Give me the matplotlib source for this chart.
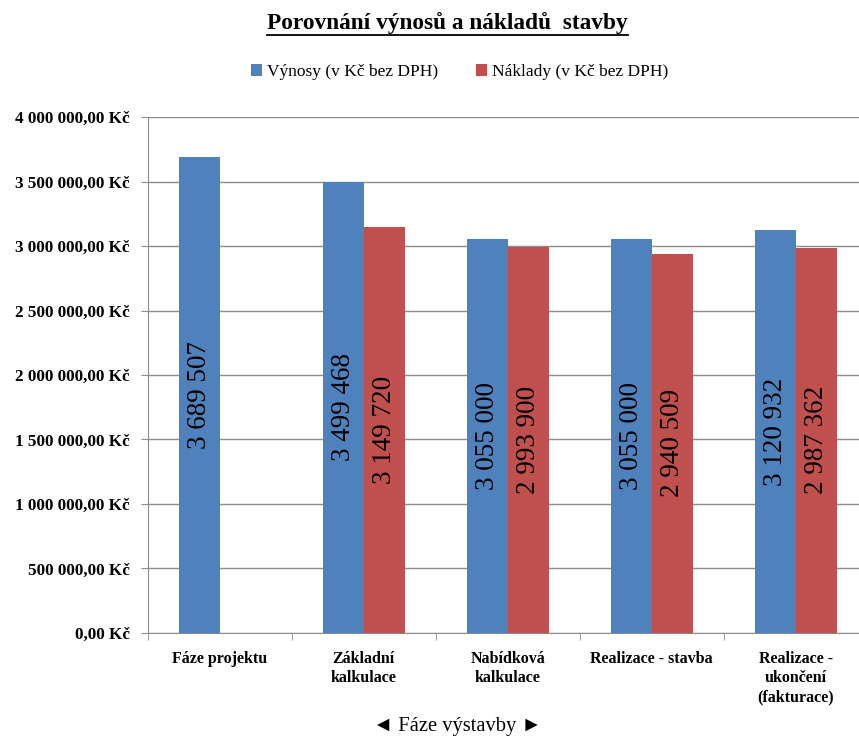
import matplotlib
matplotlib.use("Agg")
import matplotlib.pyplot as plt
import numpy as np
from matplotlib.lines import Line2D
from matplotlib.ticker import FuncFormatter, MultipleLocator

plt.rcParams['font.family'] = ['Liberation Serif', 'DejaVu Sans']

faze = ["Fáze projektu", "Základní\nkalkulace", "Nabídková\nkalkulace",
        "Realizace - stavba", "Realizace -\nukončení\n(fakturace)"]
vynosy = [3689507, 3499468, 3055000, 3055000, 3120932]
naklady = [np.nan, 3149720, 2993900, 2940509, 2987362]

modra = "#4F81BD"
cervena = "#C0504D"


def czk(v, pos=None):
    s = f"{v:,.2f}".replace(",", " ").replace(".", ",")
    return s + " Kč"


def cislo(v):
    return f"{v:,.0f}".replace(",", " ")


fig = plt.figure(figsize=(8.59, 7.36), dpi=100)
# osa pokračuje kousek za pravý okraj obrázku
ax = fig.add_axes([0.172, 0.140, 0.838, 0.701])

x = np.arange(len(faze))
w = 0.285
b1 = ax.bar(x - w / 2, vynosy, w, color=modra, label="Výnosy (v Kč bez DPH)", zorder=3)
b2 = ax.bar(x + w / 2, naklady, w, color=cervena, label="Náklady (v Kč bez DPH)", zorder=3)

for bars, vals in ((b1, vynosy), (b2, naklady)):
    for r, v in zip(bars, vals):
        if np.isnan(v):
            continue
        ax.text(r.get_x() + r.get_width() / 2, v / 2, cislo(v), rotation=90,
                ha="center", va="center", fontsize=19.5, color="black", zorder=4)

ax.set_xlim(-0.5, len(faze) - 0.5)
ax.set_ylim(0, 4000000)
ax.yaxis.set_major_locator(MultipleLocator(500000))
ax.yaxis.set_major_formatter(FuncFormatter(czk))
ax.grid(axis="y", color="#8c8c8c", linewidth=1, zorder=0)

ax.set_xticks(x)
ax.set_xticklabels(faze, fontweight="bold", fontsize=11.5, linespacing=1.25)
ax.set_xticks(np.arange(len(faze) + 1) - 0.5, minor=True)
ax.tick_params(axis="x", which="major", length=0, pad=13)
ax.tick_params(axis="x", which="minor", length=5, color="#8c8c8c")
ax.tick_params(axis="y", length=5, color="#8c8c8c", pad=8)
for lab in ax.get_yticklabels():
    lab.set_fontweight("bold")
    lab.set_fontsize(12.3)

for s in ("top", "right"):
    ax.spines[s].set_visible(False)
for s in ("left", "bottom"):
    ax.spines[s].set_color("#8c8c8c")

ax.set_xlabel("◄ Fáze výstavby ►", fontsize=14.8)
ax.xaxis.set_label_coords(0.43, -0.163)

leg = fig.legend(loc="center", bbox_to_anchor=(0.535, 0.902), ncol=2, frameon=False,
                 fontsize=12.5, handlelength=0.6, handleheight=0.6,
                 handletextpad=0.3, columnspacing=2.2)

title = fig.text(0.521, 0.969, "Porovnání výnosů a nákladů  stavby", ha="center",
                 va="center", fontsize=16.8, fontweight="bold")

# podtržení nadpisu
fig.canvas.draw()
bb = title.get_window_extent().transformed(fig.transFigure.inverted())
yline = bb.y0 - 0.002
fig.add_artist(Line2D([bb.x0, bb.x1], [yline, yline], color="black", linewidth=1.3,
                      transform=fig.transFigure))

fig.savefig("out.png", dpi=100)
